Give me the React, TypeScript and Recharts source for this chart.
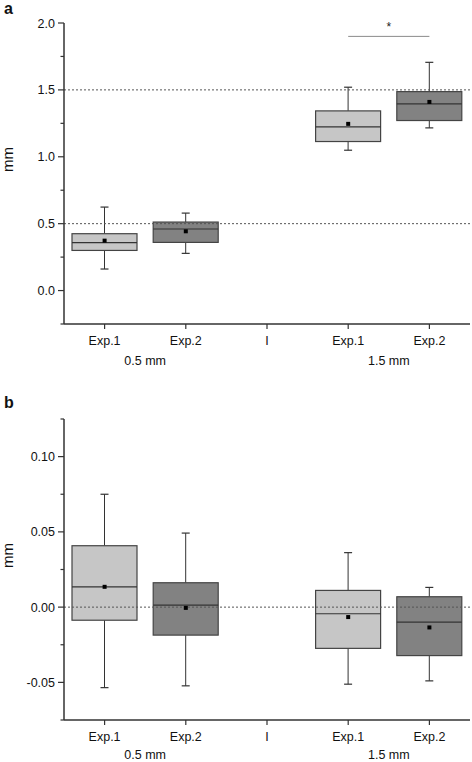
import React from 'react';
import { ComposedChart, Bar, Line, Cell, XAxis, YAxis, ReferenceLine, Label } from 'recharts';

// categories along the x axis (the middle one is an empty spacer labelled "I")
const keys = ['s1', 's2', 'gap', 'l1', 'l2'];
const tickLabels = ['Exp.1', 'Exp.2', 'I', 'Exp.1', 'Exp.2'];
// each group label sits between its two categories
const groupFirst = ['s1', 'l1'];
const groupLabels = ['0.5 mm', '1.5 mm'];

// panel a: box plot statistics (mm)
const loA = [0.161, 0.278, null, 1.049, 1.216];
const q1A = [0.3, 0.36, null, 1.114, 1.271];
const medA = [0.358, 0.46, null, 1.224, 1.395];
const q3A = [0.425, 0.512, null, 1.343, 1.487];
const hiA = [0.624, 0.579, null, 1.52, 1.706];
const meanA = [0.373, 0.443, null, 1.246, 1.41];
const ticksA = [-0.25, 0, 0.25, 0.5, 0.75, 1, 1.25, 1.5, 1.75, 2];
const refsA = [0.5, 1.5];
const sigA = { from: 'l1', to: 'l2', y: 1.9, text: '*' };

// panel b: box plot statistics (mm)
const loB = [-0.0535, -0.0523, null, -0.0512, -0.049];
const q1B = [-0.0087, -0.0186, null, -0.0274, -0.0322];
const medB = [0.0135, 0.0013, null, -0.0044, -0.01];
const q3B = [0.0408, 0.0162, null, 0.0111, 0.0069];
const hiB = [0.075, 0.0492, null, 0.0362, 0.0131];
const meanB = [0.0135, -0.0005, null, -0.0066, -0.0135];
const ticksB = [-0.075, -0.05, -0.025, 0, 0.025, 0.05, 0.075, 0.1, 0.125];
const refsB = [0];

const FONT = '"Liberation Sans", Arial, sans-serif';
const INK = '#333';
const TEXT = '#111';
const BOX_FILL: Record<string, string> = { 'Exp.1': '#c6c6c6', 'Exp.2': '#828282' };

function buildRows(lo: any[], q1: any[], med: any[], q3: any[], hi: any[], mean: any[]) {
  return keys.map((key, i) => ({
    key,
    lo: lo[i],
    q1: q1[i],
    med: med[i],
    q3: q3[i],
    hi: hi[i],
    mean: mean[i],
    box: q1[i] == null ? null : [q1[i], q3[i]],
  }));
}

const rowsA = buildRows(loA, q1A, medA, q3A, hiA, meanA);
const rowsB = buildRows(loB, q1B, medB, q3B, hiB, meanB);

// draws whiskers, box and median from the bar that spans q1..q3
const BoxShape = (props: any) => {
  const { x, y, width, height, payload, fill } = props;
  if (!payload || payload.q1 == null || !isFinite(y) || !isFinite(height)) return null;
  const span = payload.q3 - payload.q1;
  const toY = (v: number) => y + (height * (payload.q3 - v)) / span;
  const cx = x + width / 2;
  const top = Math.min(y, y + height);
  const bottom = Math.max(y, y + height);
  const yHi = toY(payload.hi);
  const yLo = toY(payload.lo);
  const yMed = toY(payload.med);
  return (
    <g>
      <line x1={cx} x2={cx} y1={yHi} y2={top} stroke={INK} strokeWidth={1} />
      <line x1={cx} x2={cx} y1={bottom} y2={yLo} stroke={INK} strokeWidth={1} />
      <line x1={cx - 4} x2={cx + 4} y1={yHi} y2={yHi} stroke={INK} strokeWidth={1.2} />
      <line x1={cx - 4} x2={cx + 4} y1={yLo} y2={yLo} stroke={INK} strokeWidth={1.2} />
      <rect x={x} y={top} width={width} height={bottom - top} fill={fill} stroke="#444" strokeWidth={1.2} />
      <line x1={x} x2={x + width} y1={yMed} y2={yMed} stroke={INK} strokeWidth={1.2} />
    </g>
  );
};

const MeanDot = (props: any) => {
  const { cx, cy, index } = props;
  if (cx == null || cy == null || !isFinite(cy)) return <g key={`m${index}`} />;
  return <rect key={`m${index}`} x={cx - 2} y={cy - 2} width={4} height={4} fill="#000" />;
};

const makeYTick = (step: number, digits: number) => (props: any) => {
  const { x, y, payload } = props;
  const v = payload.value;
  const major = Math.abs(v / step - Math.round(v / step)) < 1e-6;
  return (
    <g>
      <line x1={x - (major ? 6 : 3.5)} x2={x} y1={y} y2={y} stroke={INK} strokeWidth={1.2} />
      {major && (
        <text x={x - 9} y={y} dy="0.36em" textAnchor="end" fontSize={12.5} fill={TEXT} fontFamily={FONT}>
          {v.toFixed(digits)}
        </text>
      )}
    </g>
  );
};

// category label, plus the group label half a band to the right of the group's first category
const makeXTick = (groupGap: number) => (props: any) => {
  const { x, y, payload, width, visibleTicksCount } = props;
  const i = keys.indexOf(payload.value);
  const band = (width || 406) / (visibleTicksCount || keys.length);
  const g = groupFirst.indexOf(payload.value);
  return (
    <g>
      <text x={x} y={y} dy="0.71em" textAnchor="middle" fontSize={12.5} fill={TEXT} fontFamily={FONT}>
        {tickLabels[i]}
      </text>
      {g >= 0 && (
        <text x={x + band / 2} y={y + groupGap} dy="0.71em" textAnchor="middle" fontSize={12.5} fill={TEXT} fontFamily={FONT}>
          {groupLabels[g]}
        </text>
      )}
    </g>
  );
};

const YLabel = (props: any) => {
  const vb = props.viewBox;
  if (!vb) return null;
  const cx = vb.x + 13;
  const cy = vb.y + vb.height / 2 - 14;
  return (
    <text x={cx} y={cy} transform={`rotate(-90 ${cx} ${cy})`} textAnchor="middle" fontSize={15} fill={TEXT} fontFamily={FONT}>
      mm
    </text>
  );
};

interface PanelProps {
  letter: string;
  rows: any[];
  height: number;
  top: number;
  axisHeight: number;
  groupGap: number;
  domain: [number, number];
  ticks: number[];
  step: number;
  digits: number;
  refs: number[];
  sig?: { from: string; to: string; y: number; text: string };
  letterTop: number;
}

function Panel(p: PanelProps) {
  const { letter, rows, height, top, axisHeight, groupGap, domain, ticks, step, digits, refs, sig, letterTop } = p;
  return (
    <div style={{ position: 'relative', width: 472, height }}>
      <div
        style={{
          position: 'absolute',
          left: 4,
          top: letterTop,
          fontFamily: FONT,
          fontWeight: 'bold',
          fontSize: 16,
          lineHeight: '16px',
          color: TEXT,
        }}
      >
        {letter}
      </div>
      <ComposedChart width={472} height={height} data={rows} margin={{ top, right: 2, bottom: 0, left: 0 }}>
        <XAxis
          dataKey="key"
          type="category"
          interval={0}
          tick={makeXTick(groupGap)}
          tickSize={5}
          tickMargin={7}
          height={axisHeight}
          axisLine={{ stroke: INK, strokeWidth: 1.5 }}
          tickLine={{ stroke: INK, strokeWidth: 1.2 }}
        />
        <YAxis
          type="number"
          domain={domain}
          ticks={ticks}
          interval={0}
          allowDataOverflow
          width={64}
          tickSize={0}
          tickMargin={0}
          tickLine={false}
          axisLine={{ stroke: INK, strokeWidth: 1.5 }}
          tick={makeYTick(step, digits)}
        >
          <Label content={<YLabel />} />
        </YAxis>
        <Bar dataKey="box" barSize={65} shape={<BoxShape />} isAnimationActive={false}>
          {rows.map((r, i) => (
            <Cell key={r.key} fill={BOX_FILL[tickLabels[i]] || 'none'} />
          ))}
        </Bar>
        <Line dataKey="mean" stroke="none" dot={<MeanDot />} activeDot={false} isAnimationActive={false} />
        {refs.map((v) => (
          <ReferenceLine key={v} y={v} stroke="#555" strokeDasharray="2 2" strokeWidth={1} />
        ))}
        {sig && (
          <ReferenceLine
            segment={[
              { x: sig.from, y: sig.y },
              { x: sig.to, y: sig.y },
            ]}
            stroke="#8a8a8a"
            strokeWidth={1}
            label={{ value: sig.text, position: 'top', fill: '#222', fontSize: 12, fontFamily: FONT }}
          />
        )}
      </ComposedChart>
    </div>
  );
}

export default function App() {
  return (
    <div style={{ width: 472, height: 762, overflow: 'hidden', background: '#fff', fontFamily: FONT }}>
      <style>{'body{margin:0;overflow:hidden;background:#fff}'}</style>
      <Panel
        letter="a"
        rows={rowsA}
        height={372}
        top={23}
        axisHeight={48}
        groupGap={20}
        domain={[-0.25, 2]}
        ticks={ticksA}
        step={0.5}
        digits={1}
        refs={refsA}
        sig={sigA}
        letterTop={0.5}
      />
      <Panel
        letter="b"
        rows={rowsB}
        height={390}
        top={47}
        axisHeight={42}
        groupGap={18}
        domain={[-0.075, 0.125]}
        ticks={ticksB}
        step={0.05}
        digits={2}
        refs={refsB}
        letterTop={22.5}
      />
    </div>
  );
}
